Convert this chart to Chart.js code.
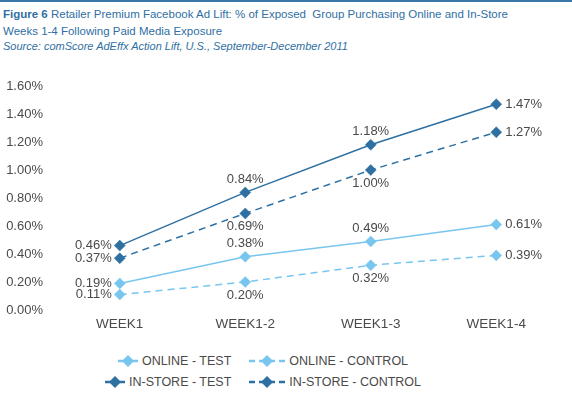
<!DOCTYPE html>
<html>
<head>
<meta charset="utf-8">
<script src="https://cdn.jsdelivr.net/npm/chart.js@4.4.1/dist/chart.umd.min.js"></script>
<style>
  html, body { margin: 0; padding: 0; background: #fff; }
  body { width: 572px; height: 399px; position: relative; overflow: hidden;
         font-family: "Liberation Sans", Arial, sans-serif; }
  .topline { position: absolute; left: 0; top: 0; width: 572px; height: 2px; background: #3a77a8; }
  .title { position: absolute; left: 3px; top: 6px; color: #2f6fa3; font-size: 11.5px; line-height: 17px; }
  .title b { font-weight: bold; }
  .source { position: absolute; left: 3px; top: 40px; color: #2f6fa3; font-size: 11px; font-style: italic; }
  .chart-box { position: absolute; left: 0; top: 60px; width: 572px; height: 280px; }
  .legend { position: absolute; left: 0; top: 350px; width: 526px; color: #4a4a4a; font-size: 12.5px; }
  .legend .row { display: flex; justify-content: center; gap: 18px; height: 21px; align-items: center; }
  .legend .item { display: flex; align-items: center; gap: 4px; }
  .legend svg { display: block; }
</style>
</head>
<body>
<div class="topline"></div>
<div class="title"><b>Figure 6</b> Retailer Premium Facebook Ad Lift: % of Exposed&nbsp; Group Purchasing Online and In-Store<br>Weeks 1-4 Following Paid Media Exposure</div>
<div class="source">Source: comScore AdEffx Action Lift, U.S., September-December 2011</div>
<div class="chart-box"><canvas id="chart" width="572" height="280"></canvas></div>
<div class="legend" id="legend"></div>

<script>
    // Data
    const weeks = ['WEEK1', 'WEEK1-2', 'WEEK1-3', 'WEEK1-4'];
    const onlineTest = [0.19, 0.38, 0.49, 0.61];
    const onlineControl = [0.11, 0.20, 0.32, 0.39];
    const inStoreTest = [0.46, 0.84, 1.18, 1.47];
    const inStoreControl = [0.37, 0.69, 1.00, 1.27];
    const yTicks = [0, 0.2, 0.4, 0.6, 0.8, 1.0, 1.2, 1.4, 1.6];

    const LIGHT = '#78c6ee';
    const DARK = '#2e70a2';
    const TEXT = '#4a4a4a';
    const FONT = '"Liberation Sans", Arial, sans-serif';

    function series(label, data, color, dashed, side) {
        return {
            label: label,
            data: data,
            borderColor: color,
            backgroundColor: color,
            borderWidth: 1.5,
            borderDash: dashed ? [7, 5] : [],
            pointStyle: 'rectRot',
            pointRadius: 5.5,
            pointBorderWidth: 0.5,
            pointBorderColor: color,
            pointBackgroundColor: color,
            tension: 0,
            labelSide: side,
            dashed: dashed
        };
    }

    const datasets = [
        series('ONLINE - TEST', onlineTest, LIGHT, false, 'top'),
        series('ONLINE - CONTROL', onlineControl, LIGHT, true, 'bottom'),
        series('IN-STORE - TEST', inStoreTest, DARK, false, 'top'),
        series('IN-STORE - CONTROL', inStoreControl, DARK, true, 'bottom')
    ];

    // Value labels next to each point
    const valueLabels = {
        id: 'valueLabels',
        afterDatasetsDraw(chart) {
            const ctx = chart.ctx;
            ctx.save();
            ctx.font = '13px ' + FONT;
            ctx.fillStyle = TEXT;
            ctx.textBaseline = 'middle';
            chart.data.datasets.forEach((ds, i) => {
                const meta = chart.getDatasetMeta(i);
                meta.data.forEach((pt, j) => {
                    const text = ds.data[j].toFixed(2) + '%';
                    let x = pt.x, y = pt.y;
                    if (j === 0) {
                        ctx.textAlign = 'right';
                        x -= 8;
                    } else if (j === ds.data.length - 1) {
                        ctx.textAlign = 'left';
                        x += 9;
                    } else {
                        ctx.textAlign = 'center';
                        y += ds.labelSide === 'top' ? -13 : 13;
                    }
                    ctx.fillText(text, x, y);
                });
            });
            ctx.restore();
        }
    };

    const chart = new Chart(document.getElementById('chart'), {
        type: 'line',
        data: { labels: weeks, datasets: datasets },
        options: {
            responsive: false,
            animation: false,
            layout: { padding: { top: 26, right: 13, left: 0, bottom: 0 } },
            plugins: {
                legend: { display: false },
                tooltip: { enabled: false }
            },
            scales: {
                x: {
                    offset: true,
                    grid: { display: false, drawTicks: false },
                    border: { display: false },
                    ticks: { color: TEXT, font: { family: FONT, size: 13.5 }, padding: 6, maxRotation: 0 },
                    afterFit(scale) { scale.height = 30; }
                },
                y: {
                    min: 0,
                    max: 1.6,
                    grid: { display: false, drawTicks: false },
                    border: { display: false },
                    afterBuildTicks(scale) { scale.ticks = yTicks.map(v => ({ value: v })); },
                    ticks: {
                        color: TEXT,
                        font: { family: FONT, size: 13 },
                        padding: 14,
                        callback: v => v.toFixed(2) + '%'
                    },
                    afterFit(scale) { scale.width = 57; }
                }
            }
        },
        plugins: [valueLabels]
    });

    // Legend built from the datasets, two per row
    function legendIcon(ds) {
        const w = ds.dashed ? 36 : 20;
        const c = w / 2;
        const dash = ds.dashed ? ' stroke-dasharray="6 4"' : '';
        return `<svg width="${w}" height="12" viewBox="0 0 ${w} 12">
            <line x1="0" y1="6" x2="${w}" y2="6" stroke="${ds.borderColor}" stroke-width="2.5"${dash}></line>
            <polygon points="${c - 6},6 ${c},0 ${c + 6},6 ${c},12" fill="${ds.borderColor}"></polygon>
        </svg>`;
    }

    const legendEl = document.getElementById('legend');
    for (let r = 0; r < 2; r++) {
        const row = document.createElement('div');
        row.className = 'row';
        datasets.slice(r * 2, r * 2 + 2).forEach(ds => {
            const item = document.createElement('div');
            item.className = 'item';
            item.innerHTML = legendIcon(ds) + '<span>' + ds.label + '</span>';
            row.appendChild(item);
        });
        legendEl.appendChild(row);
    }
</script>
</body>
</html>
